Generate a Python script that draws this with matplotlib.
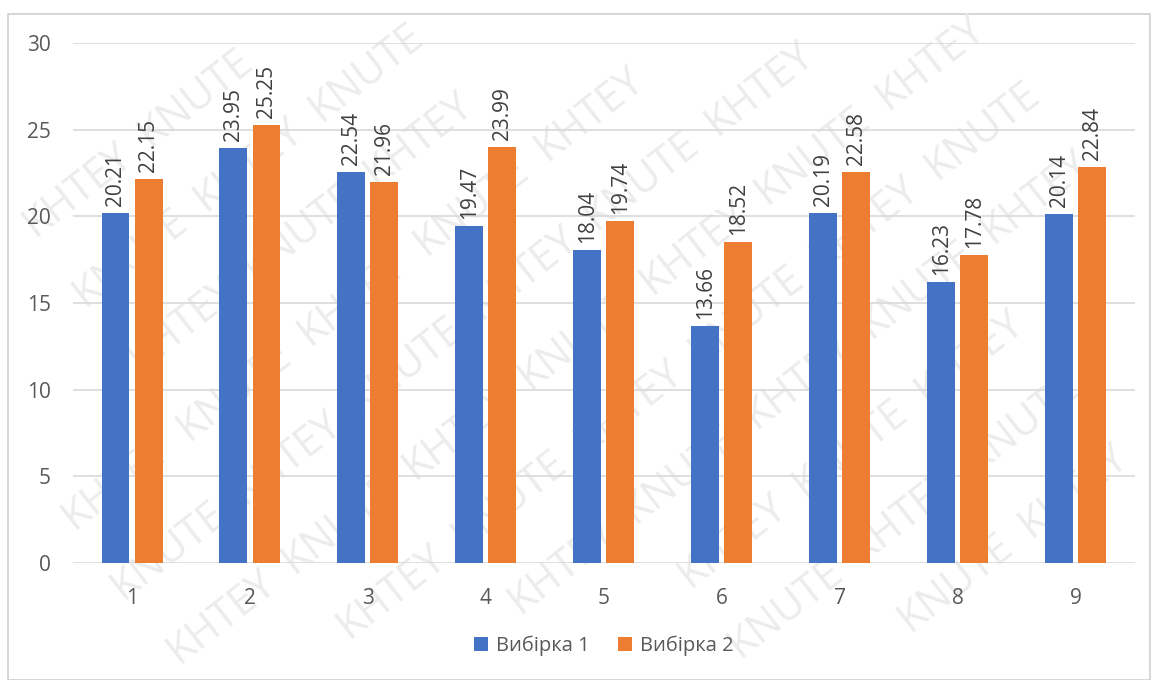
import matplotlib
matplotlib.use('Agg')
import matplotlib.pyplot as plt
import numpy as np
from matplotlib.patches import Rectangle

# ---------------------------------------------------------------------------
# Data
# ---------------------------------------------------------------------------
categories = ['1', '2', '3', '4', '5', '6', '7', '8', '9']
sample1 = [20.21, 23.95, 22.54, 19.47, 18.04, 13.66, 20.19, 16.23, 20.14]
sample2 = [22.15, 25.25, 21.96, 23.99, 19.74, 18.52, 22.58, 17.78, 22.84]
series_names = ['Вибірка 1', 'Вибірка 2']
y_ticks = [0, 5, 10, 15, 20, 25, 30]
watermark_words = ['KNUTE', 'KHTEY']

BLUE = '#4472C4'
ORANGE = '#ED7D31'
TEXT = '#595959'
GRID = '#D9D9D9'

plt.rcParams['font.family'] = ['Open Sans', 'DejaVu Sans']

W, H = 1152, 680
fig = plt.figure(figsize=(W / 100, H / 100), dpi=100)
ax = fig.add_axes([0.0634, 0.172, 0.9216, 0.7648])
ax.patch.set_visible(False)

x = np.arange(len(categories))
w = 0.237
off = 0.14

b1 = ax.bar(x - off, sample1, w, color=BLUE, label=series_names[0], zorder=3)
b2 = ax.bar(x + off, sample2, w, color=ORANGE, label=series_names[1], zorder=3)

for bars, vals in ((b1, sample1), (b2, sample2)):
    for rect, v in zip(bars, vals):
        ax.annotate(f'{v:.2f}', (rect.get_x() + rect.get_width() / 2, v),
                    xytext=(0, 5), textcoords='offset points',
                    rotation=90, ha='center', va='bottom',
                    fontsize=15, color='#404040', zorder=4)

ax.set_xlim(-0.5, len(categories) - 0.5)
ax.set_ylim(0, 30)
ax.set_yticks(y_ticks)
ax.set_xticks(x)
ax.set_xticklabels(categories)
ax.yaxis.grid(True, color=GRID, linewidth=1.2, zorder=0)
for s in ax.spines.values():
    s.set_visible(False)
ax.tick_params(length=0, labelsize=15, colors=TEXT)
ax.tick_params(axis='y', pad=16)
ax.tick_params(axis='x', pad=18)

ax.legend(loc='upper center', bbox_to_anchor=(0.5, -0.105), ncol=2,
          frameon=False, fontsize=14.5, labelcolor=TEXT,
          handlelength=0.7, handleheight=0.7, handletextpad=0.4,
          columnspacing=1.4)

# chart-area border
fig.patches.append(Rectangle((8 / W, 0.0), 1142 / W, 1 - 14 / H,
                             transform=fig.transFigure, fill=False,
                             edgecolor='#D0D0D0', linewidth=1.2, zorder=-2))

# KNUTE / KHTEY watermark, diagonal rows, kept fully inside the figure
ang = np.deg2rad(38)
along = np.array([np.cos(ang), np.sin(ang)])
perp = np.array([-np.sin(ang), np.cos(ang)])
for i in range(-12, 13):
    for j in range(-12, 13):
        cx, cy = np.array([W / 2, H / 2]) + i * 150 * along + j * 85 * perp
        if 70 < cx < W - 70 and 60 < cy < H - 60:
            fig.text(cx / W, cy / H, watermark_words[(i + j) % 2],
                     rotation=38, rotation_mode='anchor',
                     ha='center', va='center', fontsize=30,
                     color='#ECECEC', zorder=-1)

fig.savefig('out.png', dpi=100)
